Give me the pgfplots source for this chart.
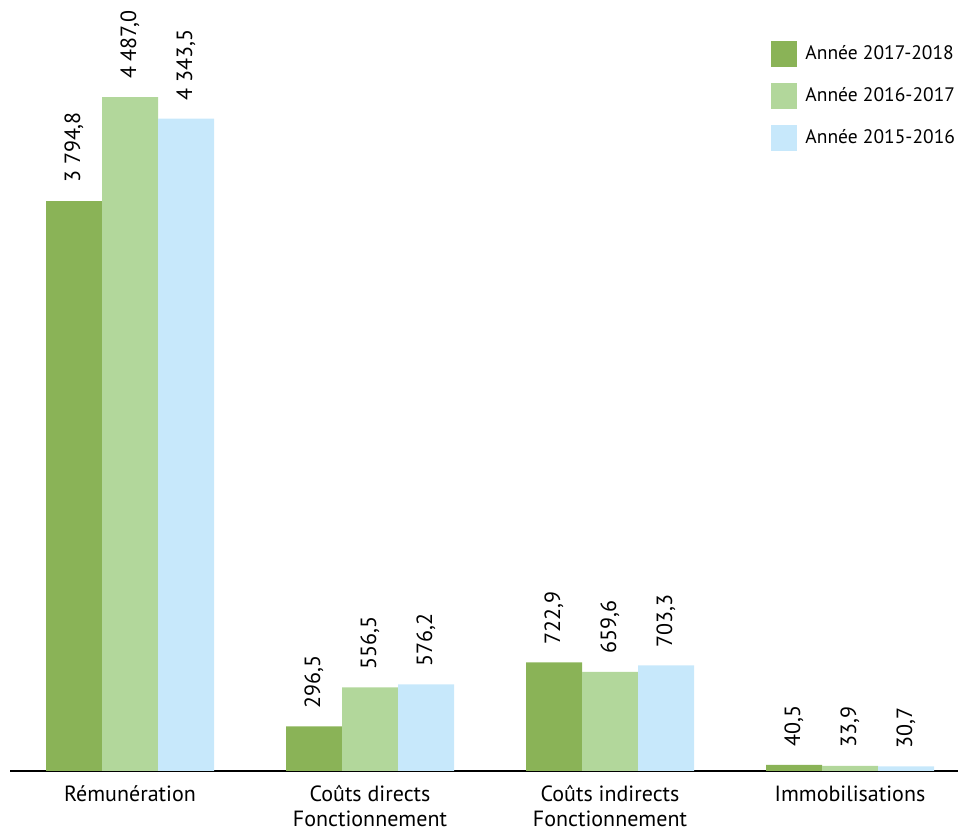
\documentclass[border=0pt]{standalone}
\usepackage{pgfplots}
\pgfplotsset{compat=1.18}
\usepackage{fontspec}
\setmainfont{PT Sans}
\definecolor{vertfonce}{HTML}{8AB357}
\definecolor{vertclair}{HTML}{B2D79B}
\definecolor{bleuclair}{HTML}{C7E8FB}

\begin{document}
\begin{tikzpicture}
\useasboundingbox (0,0) rectangle (959pt,833pt);
\begin{axis}[
    anchor=origin,
    at={(130pt,62pt)},
    x=240pt,
    y=0.1502pt,
    xmin=-0.5, xmax=3.45,
    ymin=0, ymax=5126,
    ybar=0pt,
    bar width=56pt,
    clip=false,
    axis x line=bottom,
    axis y line=none,
    axis line style={black, line width=1.3pt, -},
    major tick length=0pt,
    xtick={0,1,2,3},
    xticklabels={R\'emun\'eration, {Co\^uts directs\\Fonctionnement}, {Co\^uts indirects\\Fonctionnement}, Immobilisations},
    x tick label style={font=\fontsize{22}{25}\selectfont, align=center, anchor=north, yshift=-11pt},
    nodes near coords,
    nodes near coords style={font=\fontsize{22}{24}\selectfont, rotate=90, anchor=west, inner xsep=18pt, inner ysep=0pt},
    /pgf/number format/.cd, fixed, fixed zerofill, precision=1, use comma, 1000 sep={\ }, assume math mode=true,
    /pgfplots/.cd,
    legend style={at={(0.803,0.949)}, anchor=north west, draw=none, fill=none, inner sep=0pt,
        row sep=16pt, font=\fontsize{19.5}{23}\selectfont,
        nodes={inner sep=0pt, anchor=west}},
    legend cell align=left,
    every axis plot post/.append style={
        legend image code/.code={\fill[##1] (0pt,-13pt) rectangle (26pt,13pt); \path (34pt,0pt);}},
]
\addplot[fill=vertfonce, draw=none] coordinates {(0,3794.8) (1,296.5) (2,722.9) (3,40.5)};
\addplot[fill=vertclair, draw=none] coordinates {(0,4487.0) (1,556.5) (2,659.6) (3,33.9)};
\addplot[fill=bleuclair, draw=none] coordinates {(0,4343.5) (1,576.2) (2,703.3) (3,30.7)};
\legend{Ann\'ee 2017-2018, Ann\'ee 2016-2017, Ann\'ee 2015-2016}
\end{axis}
\end{tikzpicture}
\end{document}
